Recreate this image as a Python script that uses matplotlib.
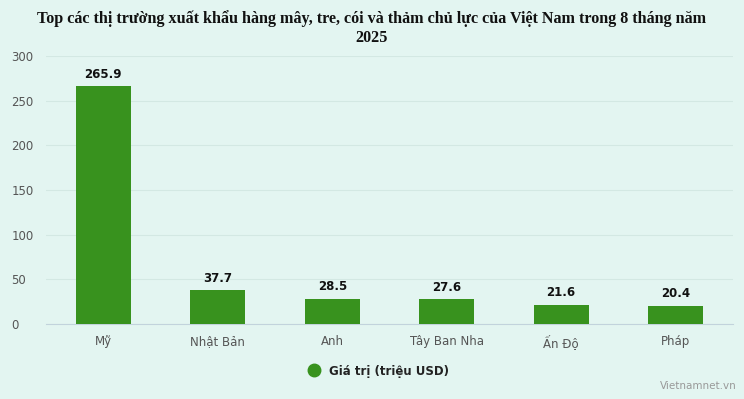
import matplotlib
matplotlib.use("Agg")
import matplotlib.pyplot as plt
from matplotlib.lines import Line2D

markets = ["Mỹ", "Nhật Bản", "Anh", "Tây Ban Nha", "Ấn Độ", "Pháp"]
values = [265.9, 37.7, 28.5, 27.6, 21.6, 20.4]
y_ticks = [0, 50, 100, 150, 200, 250, 300]

bg = "#e3f5f1"
bar_color = "#38921e"

fig = plt.figure(figsize=(7.44, 3.99), dpi=100, facecolor=bg)
ax = fig.add_axes([0.062, 0.188, 0.923, 0.672], facecolor=bg)

x = list(range(len(markets)))
ax.bar(x, values, width=0.48, color=bar_color, zorder=3)

for xi, v in zip(x, values):
    ax.text(xi, v + 6, f"{v:.1f}", ha="center", va="bottom",
            fontsize=8.5, fontweight="bold", color="#111111",
            family="DejaVu Sans")

ax.set_xlim(-0.5, len(markets) - 0.5)
ax.set_ylim(0, 300)
ax.set_yticks(y_ticks)
ax.set_xticks(x)
ax.set_xticklabels(markets)
ax.tick_params(axis="both", length=0, labelsize=8.5, colors="#555555")
ax.tick_params(axis="x", pad=8)
ax.tick_params(axis="y", pad=25)
for lbl in ax.get_yticklabels():
    lbl.set_horizontalalignment("left")

ax.grid(axis="y", color="#d3e8e3", linewidth=0.8, zorder=0)
for side in ["top", "right", "left"]:
    ax.spines[side].set_visible(False)
ax.spines["bottom"].set_color("#c2d3dc")

fig.suptitle("Top các thị trường xuất khẩu hàng mây, tre, cói và thảm chủ lực của Việt Nam trong 8 tháng năm\n2025",
             x=0.50, y=0.975, fontsize=11.6, fontweight="bold",
             family="Liberation Serif", color="#111111", linespacing=1.25)

handle = Line2D([], [], marker="o", linestyle="", markersize=9,
                markerfacecolor=bar_color, markeredgecolor=bar_color)
leg = fig.legend([handle], ["Giá trị (triệu USD)"], loc="center",
                 bbox_to_anchor=(0.505, 0.07), frameon=False,
                 prop={"size": 8.5, "weight": "semibold"}, handletextpad=0.3)
for t in leg.get_texts():
    t.set_color("#222222")

fig.text(0.99, 0.02, "Vietnamnet.vn", ha="right", va="bottom",
         fontsize=7.5, color="#999999")

fig.savefig("out.png", dpi=100, facecolor=bg)
